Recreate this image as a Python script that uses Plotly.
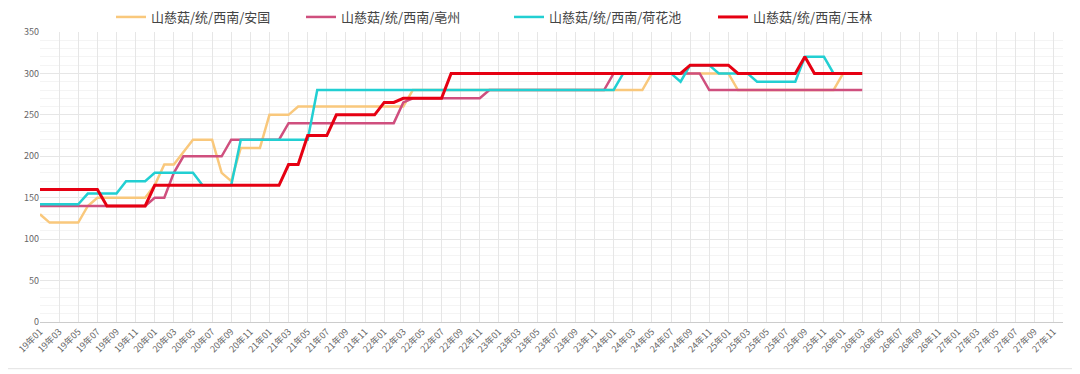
import plotly.graph_objects as go

# Monthly categories 19年01 .. 27年12
months = [f"{y:02d}年{m:02d}" for y in range(19, 28) for m in range(1, 13)]
tick_labels = months[::2]

names = ["山慈菇/统/西南/安国", "山慈菇/统/西南/亳州", "山慈菇/统/西南/荷花池", "山慈菇/统/西南/玉林"]

anguo = [
    130, 120, 120, 120, 120, 140, 150, 150, 150, 150, 150, 150,
    165, 190, 190, 205, 220, 220, 220, 180, 170, 210, 210, 210,
    250, 250, 250, 260, 260, 260, 260, 260, 260, 260, 260, 260,
    260, 260, 260, 280, 280, 280, 280, 280, 280, 280, 280, 280,
    280, 280, 280, 280, 280, 280, 280, 280, 280, 280, 280, 280,
    280, 280, 280, 280, 300, 300, 300, 300, 300, 300, 300, 300,
    300, 280, 280, 280, 280, 280, 280, 280, 280, 280, 280, 280,
    300, 300, 300,
]
bozhou = [
    140, 140, 140, 140, 140, 140, 140, 140, 140, 140, 140, 140,
    150, 150, 180, 200, 200, 200, 200, 200, 220, 220, 220, 220,
    220, 220, 240, 240, 240, 240, 240, 240, 240, 240, 240, 240,
    240, 240, 265, 270, 270, 270, 270, 270, 270, 270, 270, 280,
    280, 280, 280, 280, 280, 280, 280, 280, 280, 280, 280, 280,
    300, 300, 300, 300, 300, 300, 300, 300, 300, 300, 280, 280,
    280, 280, 280, 280, 280, 280, 280, 280, 280, 280, 280, 280,
    280, 280, 280,
]
hehuachi = [
    142, 142, 142, 142, 142, 155, 155, 155, 155, 170, 170, 170,
    180, 180, 180, 180, 180, 165, 165, 165, 165, 220, 220, 220,
    220, 220, 220, 220, 220, 280, 280, 280, 280, 280, 280, 280,
    280, 280, 280, 280, 280, 280, 280, 280, 280, 280, 280, 280,
    280, 280, 280, 280, 280, 280, 280, 280, 280, 280, 280, 280,
    280, 300, 300, 300, 300, 300, 300, 290, 310, 310, 310, 300,
    300, 300, 300, 290, 290, 290, 290, 290, 320, 320, 320, 300,
    300, 300, 300,
]
yulin = [
    160, 160, 160, 160, 160, 160, 160, 140, 140, 140, 140, 140,
    165, 165, 165, 165, 165, 165, 165, 165, 165, 165, 165, 165,
    165, 165, 190, 190, 225, 225, 225, 250, 250, 250, 250, 250,
    265, 265, 270, 270, 270, 270, 270, 300, 300, 300, 300, 300,
    300, 300, 300, 300, 300, 300, 300, 300, 300, 300, 300, 300,
    300, 300, 300, 300, 300, 300, 300, 300, 310, 310, 310, 310,
    310, 300, 300, 300, 300, 300, 300, 300, 320, 300, 300, 300,
    300, 300, 300,
]

series = [anguo, bozhou, hehuachi, yulin]
colors = ["#F9C87C", "#CF4F7E", "#22CFD2", "#E60012"]
widths = [2.5, 2.5, 2.5, 3]
legend_widths = [145, 163, 159, 150]

fig = go.Figure()
for name, vals, c, w, lw in zip(names, series, colors, widths, legend_widths):
    fig.add_trace(go.Scatter(
        x=months[:len(vals)], y=vals, name=name, mode="lines",
        line=dict(color=c, width=w), legendwidth=lw,
    ))

font_family = "Noto Sans CJK SC, Microsoft YaHei, sans-serif"

# The page body has an 8px default margin; size the figure to fit the window.
fig.update_layout(
    width=1072, height=366,
    margin=dict(l=32, r=17, t=23, b=52),
    paper_bgcolor="white", plot_bgcolor="white",
    font=dict(family=font_family, color="#666"),
    showlegend=True,
    legend=dict(
        orientation="h", xref="paper", x=0.0694, xanchor="left",
        yref="container", y=1 - 9 / 366, yanchor="middle",
        font=dict(size=13, color="#444", family=font_family),
        itemwidth=30,
        bgcolor="rgba(0,0,0,0)",
    ),
    xaxis=dict(
        type="category", categoryorder="array", categoryarray=months,
        range=[0, 107], automargin=False,
        tickmode="array", tickvals=tick_labels, ticktext=tick_labels,
        tickangle=-45, tickfont=dict(size=9, color="#666"),
        showgrid=True, gridcolor="#e6e6e6", gridwidth=1,
        showline=True, linecolor="#cccccc", linewidth=1,
        ticks="", zeroline=False,
    ),
    yaxis=dict(
        range=[0, 350], dtick=50, tick0=0, automargin=False,
        tickfont=dict(size=9, color="#666"),
        showgrid=True, gridcolor="#e6e6e6", gridwidth=1,
        minor=dict(dtick=10, showgrid=True, gridcolor="#f4f4f4", gridwidth=1),
        zeroline=False, showline=False, ticks="",
    ),
    shapes=[dict(
        type="line", xref="paper", yref="paper",
        x0=-32 / 1023, x1=(1072 - 32) / 1023,
        y0=(321.7 - 368.5) / 290.7, y1=(321.7 - 368.5) / 290.7,
        line=dict(color="#e2e2e2", width=1),
    )],
)

fig.write_html("out.html")
